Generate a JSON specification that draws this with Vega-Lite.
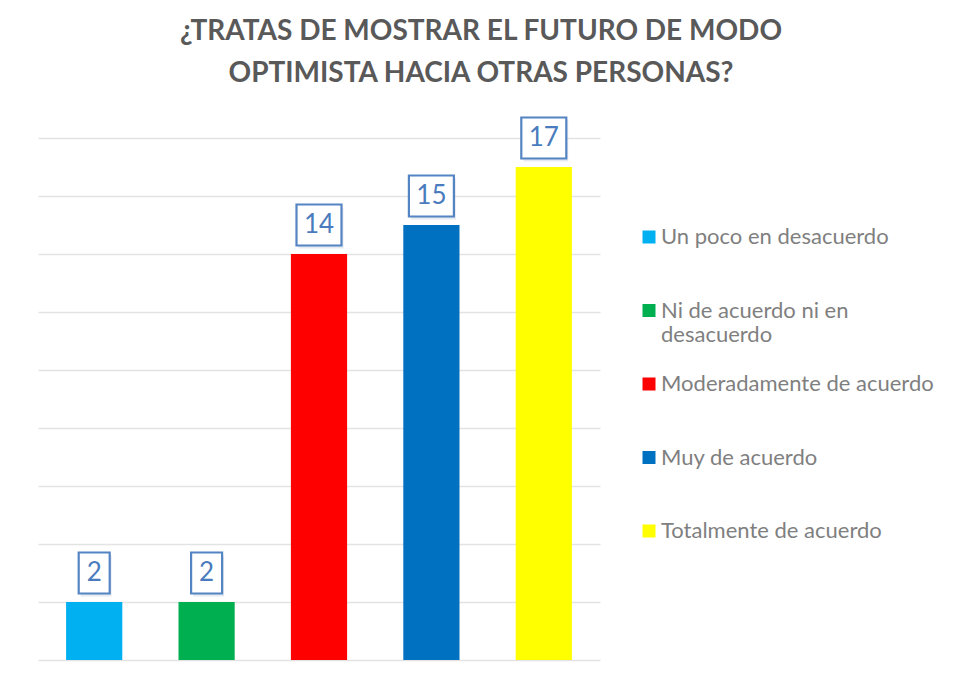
{
  "$schema": "https://vega.github.io/schema/vega-lite/v6.json",
  "width": 562,
  "height": 522,
  "autosize": {"type": "none"},
  "padding": {"left": 38, "top": 138, "right": 356, "bottom": 25},
  "background": "white",
  "title": {
    "text": ["¿TRATAS  DE MOSTRAR EL FUTURO DE MODO", "OPTIMISTA HACIA OTRAS PERSONAS?"],
    "font": "Lato",
    "fontWeight": "bold",
    "fontSize": 28,
    "color": "#595959",
    "lineHeight": 42,
    "anchor": "middle",
    "frame": "group",
    "dx": 162,
    "offset": 25
  },
  "config": {"view": {"stroke": null}, "font": "Lato"},
  "data": {
    "values": [
      {"cat": "Un poco en desacuerdo", "v": 2},
      {"cat": "Ni de acuerdo ni en desacuerdo", "v": 2},
      {"cat": "Moderadamente de acuerdo", "v": 14},
      {"cat": "Muy de acuerdo", "v": 15},
      {"cat": "Totalmente de acuerdo", "v": 17}
    ]
  },
  "encoding": {
    "x": {"field": "cat", "type": "nominal", "sort": null, "axis": null,
      "scale": {"paddingInner": 0.5, "paddingOuter": 0.25}},
    "y": {"field": "v", "type": "quantitative",
      "scale": {"domain": [0, 18], "nice": false},
      "axis": {"values": [0, 2, 4, 6, 8, 10, 12, 14, 16, 18], "grid": true, "gridColor": "#e3e3e3", "gridWidth": 1.5,
        "labels": false, "ticks": false, "domain": false, "title": null}}
  },
  "layer": [
    {
      "mark": {"type": "bar"},
      "encoding": {
        "color": {"field": "cat", "type": "nominal", "sort": null,
          "scale": {
            "domain": ["Un poco en desacuerdo", "Ni de acuerdo ni en desacuerdo", "Moderadamente de acuerdo", "Muy de acuerdo", "Totalmente de acuerdo"],
            "range": ["#00b0f0", "#00b050", "#ff0000", "#0070c0", "#ffff00"]
          },
          "legend": {
            "orient": "none",
            "legendX": 600,
            "legendY": 88,
            "padding": 0,
            "title": null,
            "symbolType": "square",
            "symbolSize": 169,
            "symbolStrokeWidth": 0,
            "labelFont": "Lato",
            "labelFontSize": 22,
            "labelColor": "#7f7f7f",
            "labelOffset": 1,
            "labelLimit": 400,
            "rowPadding": 27.5,
            "labelExpr": "datum.label == 'Ni de acuerdo ni en desacuerdo' ? ['Ni de acuerdo ni en', 'desacuerdo'] : [datum.label, ' ']"
          }
        }
      }
    },
    {
      "mark": {"type": "point", "filled": true, "fill": "#9aaecb", "opacity": 0.25, "strokeWidth": 0, "size": 2025, "xOffset": 2, "yOffset": -26},
      "encoding": {
        "shape": {"condition": {"test": "datum.v >= 10", "value": "M-1,-0.911H1V0.911H-1Z"}, "value": "M-0.689,-0.911H0.689V0.911H-0.689Z"}
      }
    },
    {
      "mark": {"type": "point", "filled": true, "fill": "white", "stroke": "#5584c2", "strokeWidth": 2.2, "opacity": 1, "size": 2025, "yOffset": -29},
      "encoding": {
        "shape": {"condition": {"test": "datum.v >= 10", "value": "M-1,-0.911H1V0.911H-1Z"}, "value": "M-0.689,-0.911H0.689V0.911H-0.689Z"}
      }
    },
    {
      "mark": {"type": "text", "font": "Lato", "fontSize": 26, "color": "#4a7cbd", "baseline": "middle", "align": "center", "yOffset": -29},
      "encoding": {"text": {"field": "v", "type": "quantitative"}}
    }
  ]
}
